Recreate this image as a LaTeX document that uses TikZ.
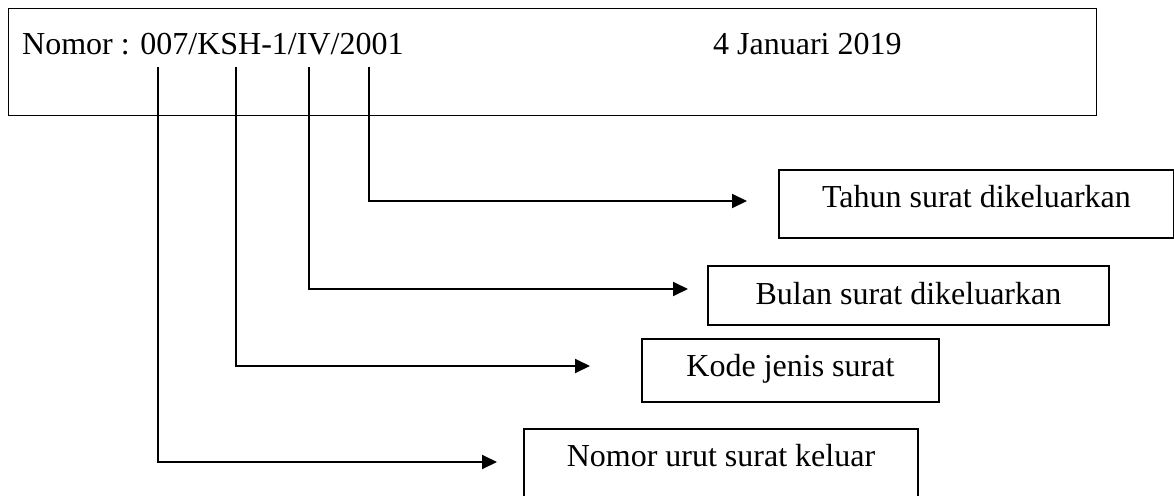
\documentclass[tikz,border=0pt]{standalone}
\usepackage{fontspec}
\setmainfont{Liberation Serif}
\usetikzlibrary{arrows.meta}
\tikzset{
  txt/.style={font=\fontsize{32}{38}\selectfont, inner sep=0pt},
  infobox/.style={draw, line width=1.9pt, inner sep=0pt, anchor=north west, font=\fontsize{32}{38}\selectfont, align=center},
  conn/.style={line width=1.9pt, -{Triangle[length=15pt,width=14pt]}}
}
\begin{document}
\begin{tikzpicture}[x=1pt,y=-1pt]
\useasboundingbox (0,0) rectangle (1174,495);
\clip (0,0) rectangle (1174,495);
% header box
\node[draw, line width=1.3pt, minimum width=1088pt, minimum height=107pt, inner sep=0pt, anchor=north west] (hdr) at (8,8) {};
\node[txt, anchor=base west] (nomor) at (22,55) {Nomor : 007/KSH-1/IV/2001};
\node[txt, anchor=base west] (tgl) at (713,55) {4 Januari 2019};
% explanation boxes
\node[infobox, minimum width=395pt, text height=38pt, text depth=30pt] (tahun) at (778,169) {Tahun surat dikeluarkan};
\node[infobox, minimum width=401pt, text height=39pt, text depth=20pt] (bulan) at (707,265) {Bulan surat dikeluarkan};
\node[infobox, minimum width=297pt, text height=38pt, text depth=25pt] (kode) at (641,338) {Kode jenis surat};
\node[infobox, minimum width=394pt, text height=38pt, text depth=60pt] (urut) at (523,428) {Nomor urut surat keluar};
% connector start points under the number
\coordinate (v1) at (158,67);
\coordinate (v2) at (236,67);
\coordinate (v3) at (309,67);
\coordinate (v4) at (369,67);
% arrow tips
\coordinate (a1) at (497,462);
\coordinate (a2) at (590,366);
\coordinate (a3) at (688,289);
\coordinate (a4) at (747,201);
\draw[conn] (v4) |- (a4);
\draw[conn] (v3) |- (a3);
\draw[conn] (v2) |- (a2);
\draw[conn] (v1) |- (a1);
\end{tikzpicture}
\end{document}
